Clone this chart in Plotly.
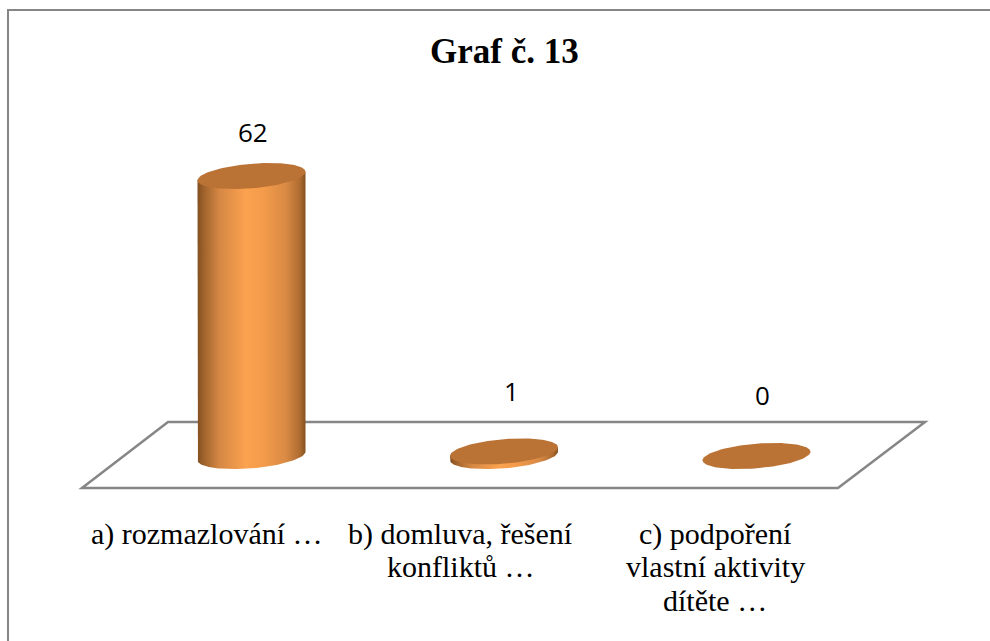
import numpy as np
import plotly.graph_objects as go

W, H = 990, 641
categories = ["a) rozmazlování …", "b) domluva, řešení|konfliktů …", "c) podpoření|vlastní aktivity|dítěte …"]
values = [62, 1, 0]
value_labels = ["62", "1", "0"]
title_text = "Graf č. 13"

# pixel calibration of the two linear axes
PX_X0, PX_DX = 251.5, 252.5
PX_Y0, PX_DY = 456.0, 4.516
xr = [(0 - PX_X0) / PX_DX, (W - PX_X0) / PX_DX]
yr = [(PX_Y0 - H) / PX_DY, PX_Y0 / PX_DY]

A = 54 / PX_DX
B = 12.3 / PX_DY
K = 4.3 / PX_DY
TOP_COL = "#bb7335"
side_scale = [[0, "#83501f"], [0.06, "#a0632c"], [0.2, "#d58744"], [0.45, "#fba24f"],
              [0.6, "#f49c4b"], [0.82, "#d98a44"], [0.95, "#ad6b30"], [1, "#85511f"]]

t = np.linspace(0, 2 * np.pi, 145)
fig = go.Figure()

for i, v in enumerate(values):
    if v > 0:
        tb = np.linspace(np.pi, 2 * np.pi, 73)  # front half of the base
        xs = np.concatenate([[i - A], i + A * np.cos(tb), [i + A]])
        ys = np.concatenate([[v - K], K * np.cos(tb) + B * np.sin(tb), [v + K]])
        fig.add_trace(go.Scatter(
            x=xs, y=ys, mode="lines", line=dict(width=0), fill="toself",
            fillgradient=dict(type="horizontal", colorscale=side_scale),
            hoverinfo="skip", showlegend=False))
    fig.add_trace(go.Scatter(
        x=i + A * np.cos(t), y=v + K * np.cos(t) + B * np.sin(t), mode="lines",
        line=dict(width=0), fill="toself", fillcolor=TOP_COL,
        hoverinfo="skip", showlegend=False))

shapes = []
def px(x): return x / W
def py(y): return 1 - y / H
floor = [(82, 488), (168, 422), (925, 422), (838, 488)]
path = "M " + " L ".join(f"{px(a):.5f},{py(b):.5f}" for a, b in floor) + " Z"
shapes.append(dict(type="path", xref="paper", yref="paper", path=path, layer="below",
                   line=dict(color="#868686", width=2.5)))
border = [(8, H + 5), (8, 10), (W + 5, 10)]
path2 = "M " + " L ".join(f"{px(a):.5f},{py(b):.5f}" for a, b in border)
shapes.append(dict(type="path", xref="paper", yref="paper", path=path2, layer="below",
                   line=dict(color="#868686", width=2)))

ann = []
LABEL_FONT = dict(family="Open Sans, Noto Sans, sans-serif", size=26, color="#000000")
label_dx = [1, 7, 6]
label_dy = [44, 60, 61]
for i, v in enumerate(values):
    ann.append(dict(x=i, y=v, xref="x", yref="y", text=value_labels[i], showarrow=False,
                    xshift=label_dx[i], yshift=label_dy[i], font=LABEL_FONT))
cat_center = [207, 460.5, 715]
cat_y = [534, 566, 600]
for i, c in enumerate(categories):
    for j, line in enumerate(c.split("|")):
        ann.append(dict(x=px(cat_center[i]), y=py(cat_y[j]), xref="paper", yref="paper",
                        text=line, showarrow=False, xanchor="center", yanchor="middle",
                        font=dict(family="Liberation Serif, serif", size=30, color="#000000")))
ann.append(dict(x=px(505), y=py(51), xref="paper", yref="paper", text=f"<b>{title_text}</b>",
                showarrow=False, xanchor="center", yanchor="middle",
                font=dict(family="Liberation Serif, serif", size=35, color="#000000")))

fig.update_layout(
    width=W, height=H, margin=dict(l=0, r=0, t=0, b=0), showlegend=False,
    paper_bgcolor="white", plot_bgcolor="rgba(0,0,0,0)",
    xaxis=dict(range=xr, visible=False, fixedrange=True),
    yaxis=dict(range=yr, visible=False, fixedrange=True),
    shapes=shapes, annotations=ann)
fig.write_html("out.html", config=dict(displayModeBar=False),
               post_script="document.body.style.margin='0';document.body.style.overflow='hidden';")
